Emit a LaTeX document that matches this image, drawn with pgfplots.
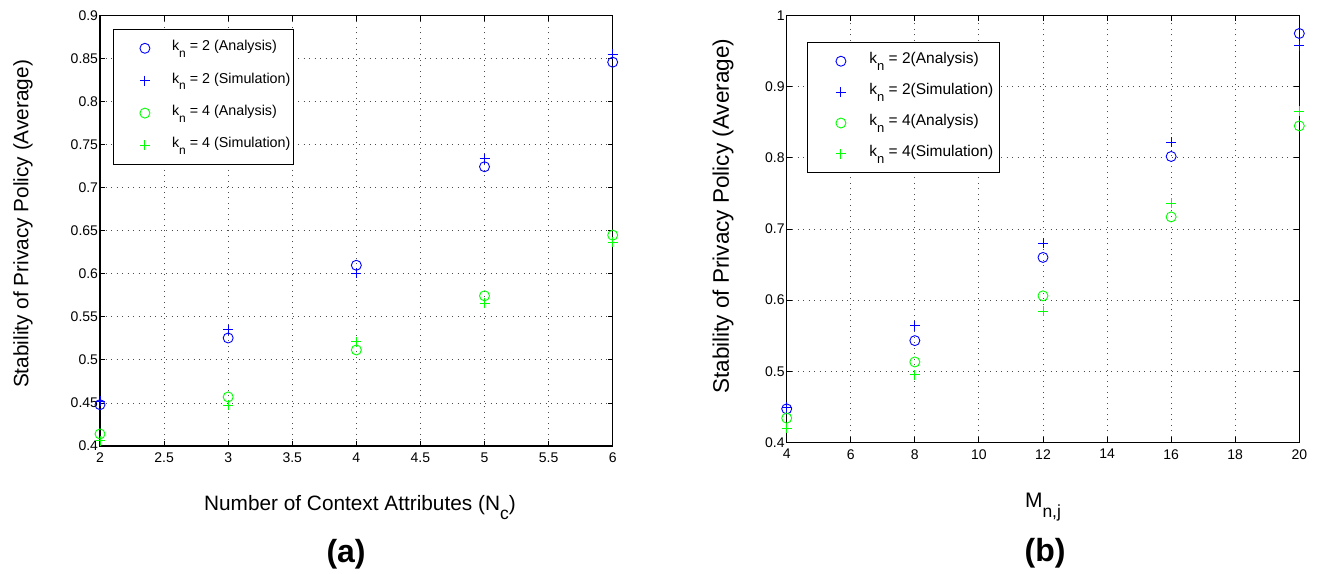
\documentclass[border=0pt]{standalone}
\usepackage{fontspec}
\setmainfont{Liberation Sans}
\usepackage{pgfplots}
\pgfplotsset{compat=1.18}
\definecolor{mblue}{rgb}{0,0,1}
\definecolor{mgreen}{rgb}{0,1,0}
\newcommand\sub[2]{\raisebox{-0.45em}{\fontsize{#1}{#1}\selectfont #2}}
\pgfplotsset{
  mstyle/.style={
    scale only axis,
    anchor=south west,
    axis line style={line width=1.3pt},
    every tick/.style={black,line width=0.9pt},
    major tick length=5pt,
    grid=major,
    major grid style={line width=0.9pt, dash pattern=on 1pt off 4.5pt, color=black!70},
    tick label style={font=\fontsize{14}{14}\selectfont},
    /pgf/number format/assume math mode=true,
    xticklabel style={yshift=-3.5pt},
    yticklabel style={xshift=1.5pt},
    clip=false,
    legend cell align=left,
  },
  p1/.style={only marks, mark=o, mark size=5pt, color=mblue, mark options={line width=0.9pt}},
  p2/.style={only marks, mark=+, mark size=5pt, color=mblue, mark options={line width=0.9pt}},
  p3/.style={only marks, mark=o, mark size=5pt, color=mgreen, mark options={line width=0.9pt}},
  p4/.style={only marks, mark=+, mark size=5pt, color=mgreen, mark options={line width=0.9pt}},
}
\begin{document}
\begin{tikzpicture}
% ---------- (a) ----------
\begin{axis}[set layers, mstyle,
  at={(100pt,127pt)}, width=512.7pt, height=430.3pt,
  xmin=2, xmax=6, ymin=0.4, ymax=0.9,
  xtick={2,2.5,...,6}, ytick={0.4,0.45,...,0.91},
  yticklabel style={/pgf/number format/fixed, /pgf/number format/precision=2},
  xlabel={Number of Context Attributes (N\sub{17.5pt}{c})},
  xlabel style={at={(axis description cs:0.507,-0.149)}, anchor=base, font=\fontsize{20.8}{22}\selectfont},
  ylabel={Stability of Privacy Policy (Average)},
  ylabel style={at={(axis description cs:-0.150,0.516)}, anchor=center, font=\fontsize{20.8}{22}\selectfont},
  legend image code/.code={\path (-28pt,0pt) (26.7pt,0pt); \draw[#1] plot coordinates {(0pt,0pt)};},
  legend style={at={(axis description cs:0.026,0.969)}, anchor=north west,
    draw=black, line width=0.9pt, inner xsep=2.7pt, inner ysep=11.3pt, row sep=17.4pt,
    font=\fontsize{14.3}{16}\selectfont,
    nodes={inner sep=0pt, text height=10pt, text depth=5pt}},
]
\addplot[p1] coordinates {(2,0.448)(3,0.5255)(4,0.610)(5,0.7245)(6,0.846)};
\addlegendentry{k\sub{12pt}{n} = 2 (Analysis)}
\addplot[p2] coordinates {(2,0.452)(3,0.535)(4,0.601)(5,0.734)(6,0.855)};
\addlegendentry{k\sub{12pt}{n} = 2 (Simulation)}
\addplot[p3] coordinates {(2,0.414)(3,0.457)(4,0.5116)(5,0.5745)(6,0.645)};
\addlegendentry{k\sub{12pt}{n} = 4 (Analysis)}
\addplot[p4] coordinates {(2,0.406)(3,0.4475)(4,0.521)(5,0.5656)(6,0.637)};
\addlegendentry{k\sub{12pt}{n} = 4 (Simulation)}
\node[anchor=base, font=\bfseries\fontsize{32}{34}\selectfont] at (axis description cs:0.480,-0.271) {(a)};
\end{axis}
% ---------- (b) ----------
\begin{axis}[set layers, mstyle,
  at={(786.7pt,130.7pt)}, width=512.6pt, height=426.6pt,
  xmin=4, xmax=20, ymin=0.4, ymax=1,
  xtick={4,6,...,20}, ytick={0.4,0.5,...,1.01},
  xlabel={M\sub{17.5pt}{n,j}},
  xlabel style={at={(axis description cs:0.5,-0.154)}, anchor=base, font=\fontsize{21}{22}\selectfont},
  ylabel={Stability of Privacy Policy (Average)},
  ylabel style={at={(axis description cs:-0.124,0.53)}, anchor=center, font=\fontsize{22.5}{24}\selectfont},
  legend image code/.code={\path (-27.3pt,0pt) (28pt,0pt); \draw[#1] plot coordinates {(0pt,0pt)};},
  legend style={at={(axis description cs:0.0391,0.9383)}, anchor=north west,
    draw=black, line width=0.9pt, inner xsep=6pt, inner ysep=11pt, row sep=15.4pt,
    font=\fontsize{15.5}{17}\selectfont,
    nodes={inner sep=0pt, text height=10.5pt, text depth=5pt}},
]
\addplot[p1] coordinates {(4,0.447)(8,0.543)(12,0.660)(16,0.802)(20,0.975)};
\addlegendentry{k\sub{13pt}{n} = 2(Analysis)}
\addplot[p2] coordinates {(4,0.449)(8,0.564)(12,0.680)(16,0.822)(20,0.958)};
\addlegendentry{k\sub{13pt}{n} = 2(Simulation)}
\addplot[p3] coordinates {(4,0.434)(8,0.513)(12,0.606)(16,0.717)(20,0.845)};
\addlegendentry{k\sub{13pt}{n} = 4(Analysis)}
\addplot[p4] coordinates {(4,0.420)(8,0.495)(12,0.584)(16,0.736)(20,0.866)};
\addlegendentry{k\sub{13pt}{n} = 4(Simulation)}
\node[anchor=base, font=\bfseries\fontsize{32}{34}\selectfont] at (axis description cs:0.504,-0.28) {(b)};
\end{axis}
\path (0pt,0pt) rectangle (1320pt,573pt);
\end{tikzpicture}
\end{document}
